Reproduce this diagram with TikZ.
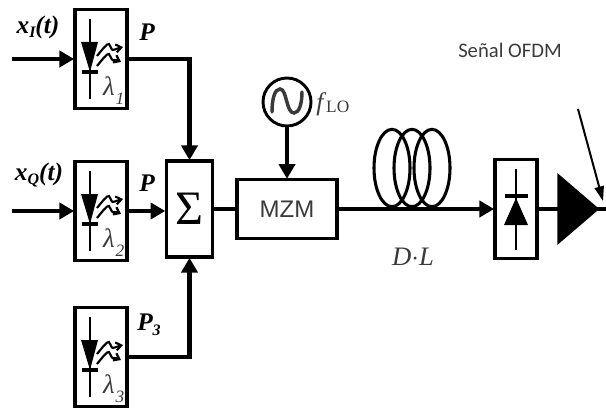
\documentclass[tikz,border=0pt]{standalone}
\usepackage{fontspec}
\setmainfont{Liberation Serif}
\newfontfamily\labelsans{Liberation Sans}
\newfontfamily\notefont{Carlito}
\usetikzlibrary{arrows.meta,shapes.geometric}
\definecolor{inkgray}{HTML}{3A3A3A}
\tikzset{
  blockbox/.style={draw=black,line width=2.3pt,fill=white,inner sep=0pt,rectangle},
  thickline/.style={line width=3.5pt,black},
  arrowline/.style={thickline,-{Triangle[length=11pt,width=12pt]},shorten >=-0.5pt},
  thinline/.style={line width=1.7pt,black},
  coil/.style={draw=black,line width=2.3pt,ellipse,minimum width=27pt,minimum height=58pt,inner sep=0pt},
  boldlabel/.style={font=\fontsize{19}{21}\selectfont\bfseries\itshape,inner sep=0pt},
  graylabel/.style={font=\fontsize{19}{21}\selectfont,text=inkgray,inner sep=0pt},
}
\newcommand{\lasercell}[3]{%
  \node[blockbox,minimum width=39pt,minimum height=74pt] (#1) at (#2) {};
  \begin{scope}[shift={(#2)}]
    \draw[thinline] (-11,-40) -- (-11,40);
    \fill (-20,-17) -- (-3,-17) -- (-11,13) -- cycle;
    \draw[line width=2.6pt] (-19,13) -- (-3,13);
    \draw[line width=1.6pt,-{Straight Barb[length=4pt,width=6pt]}] (-4,-3) .. controls (1,-9) and (6,-16) .. (8,-15) .. controls (10,-13) and (10,-9) .. (12,-9) .. controls (14,-9) and (17,-11) .. (22,-12);
    \draw[line width=1.6pt,-{Straight Barb[length=4pt,width=6pt]}] (-4,7) .. controls (1,1) and (6,-6) .. (8,-5) .. controls (10,-3) and (10,1) .. (12,1) .. controls (14,1) and (16,1) .. (20,3);
    \node[graylabel,font=\fontsize{20}{22}\selectfont\itshape] at (8,27) {λ};
    \node[graylabel,font=\fontsize{13}{15}\selectfont\itshape] at (19,40) {#3};
  \end{scope}
}
\begin{document}
\begin{tikzpicture}[x=0.75pt,y=-0.75pt]
\useasboundingbox (0,0) rectangle (606,410);

\lasercell{laserA}{101,59}{1}
\lasercell{laserB}{101,211}{2}
\lasercell{laserC}{101,357}{3}

\node[blockbox,minimum width=35pt,minimum height=72pt,font=\fontsize{36}{38}\selectfont] (sum) at (189.5,209) {Σ};
\node[blockbox,minimum width=75pt,minimum height=44pt,font=\labelsans\fontsize{18}{20}\selectfont,text=inkgray] (mzm) at (287,209) {MZM};
\node[draw=black,line width=2.2pt,circle,minimum size=36pt,inner sep=0pt] (osc) at (287,102) {};
\draw[line width=2.6pt,inkgray,line cap=round] (272,112) .. controls (272,98) and (275,89) .. (280,89) .. controls (287,89) and (286,113) .. (294,113) .. controls (299,113) and (302,104) .. (302,92);
\node[blockbox,minimum width=31.5pt,minimum height=74pt] (det) at (516,209) {};
\draw[thinline] (516,169) -- (516,250);
\draw[line width=2.6pt] (505,196) -- (528,196);
\fill (516,198) -- (528,225) -- (504,225) -- cycle;

\node[coil] (coilA) at (392,168) {};
\node[coil] (coilB) at (412,168) {};
\node[coil] (coilC) at (432,168) {};

\node[isosceles triangle,isosceles triangle stretches,fill=black,inner sep=0pt,minimum width=54pt,minimum height=31.5pt,anchor=apex] (amp) at (600,209) {};

\coordinate (inA) at (12,59);
\coordinate (inB) at (12,211);
\coordinate (outEnd) at (606,209);
\coordinate (noteStart) at (578,109);
\coordinate (noteEnd) at (603,201);

\draw[arrowline] (inA) -- (laserA.west);
\draw[arrowline] (inB) -- (laserB.west);
\draw[arrowline] (laserA.east) -| (sum.north);
\draw[arrowline] (laserB.east) -- (sum.west |- laserB.east);
\draw[arrowline] (laserC.east) -| (sum.south);
\draw[thickline] (sum.east) -- (mzm.west);
\draw[arrowline] (osc.south) -- (mzm.north);
\draw[arrowline] (mzm.east) -- (det.west);
\draw[thickline] (det.east) -- (amp.center);
\draw[thickline] (amp.center) -- (outEnd);
\draw[line width=1.5pt,-{Triangle[length=11pt,width=7pt]}] (noteStart) -- (noteEnd);

\node[boldlabel] (lblA) at (38,27) {x\raisebox{-3pt}{\fontsize{12}{13}\selectfont I}(t)};
\node[boldlabel] (lblB) at (39,175) {x\raisebox{-3pt}{\fontsize{12}{13}\selectfont Q}(t)};
\node[boldlabel] (lblP) at (147,32) {P};
\node[boldlabel] (lblQ) at (147,183) {P};
\node[boldlabel] (lblR) at (149,325) {P\raisebox{-4pt}{\fontsize{12}{13}\selectfont 3}};
\node[graylabel,anchor=west] (lblF) at (316,104) {\textit{f}\raisebox{-2pt}{\fontsize{13}{14}\selectfont LO}};
\node[graylabel,font=\fontsize{20}{22}\selectfont\itshape] (lblD) at (413,257) {D$\cdot$L};
\node[font=\notefont\fontsize{15.5}{17}\selectfont,text=inkgray,inner sep=0pt] (note) at (510,50) {Señal OFDM};
\end{tikzpicture}
\end{document}
